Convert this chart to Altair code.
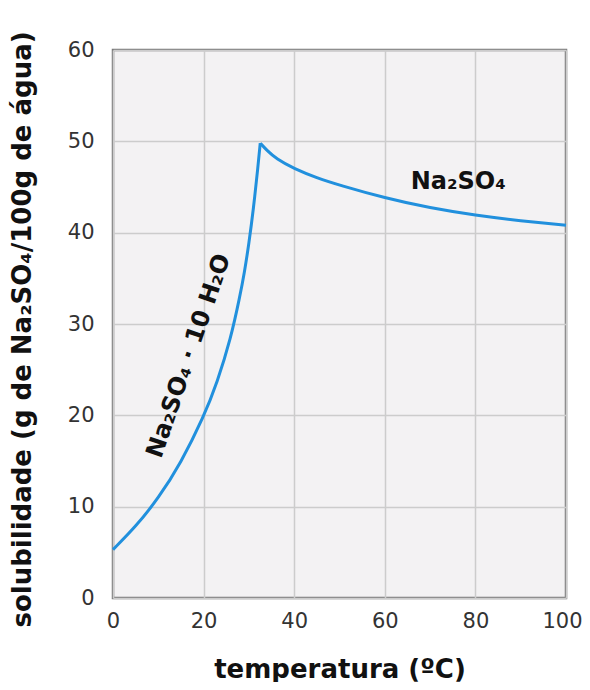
import altair as alt
import pandas as pd

# hydrate branch (Na2SO4·10H2O)
hyd_t = [0, 5, 10, 15, 20, 23, 26, 28, 29, 30, 31, 32, 32.5]
hyd_s = [5.3, 7.8, 10.9, 14.8, 19.8, 23.6, 28.4, 33.0, 35.6, 38.8, 42.6, 47.2, 49.8]
# anhydrous branch (Na2SO4)
anh_t = [32.5, 34, 36, 40, 45, 50, 60, 70, 80, 90, 100]
anh_s = [49.8, 49.0, 48.1, 47.0, 46.0, 45.2, 43.8, 42.7, 41.9, 41.3, 40.8]

labels_text = ["Na₂SO₄", "Na₂SO₄ · 10 H₂O"]
labels_t = [76.2, 16.8]
labels_s = [45.5, 26.5]

df = pd.DataFrame({
    "t": hyd_t + anh_t,
    "s": hyd_s + anh_s,
    "branch": ["hyd"] * len(hyd_t) + ["anh"] * len(anh_t),
})

FONT = "DejaVu Sans"
xs = alt.Scale(domain=[0, 100], nice=False)
ys = alt.Scale(domain=[0, 60], nice=False)

line = alt.Chart(df).mark_line(
    color="#2190dd", strokeWidth=3, interpolate="basis"
).encode(
    x=alt.X("t:Q", scale=xs,
            axis=alt.Axis(values=[0, 20, 40, 60, 80, 100], title="temperatura (ºC)",
                          titleY=79, titleBaseline="alphabetic", titleFontSize=26,
                          labelPadding=12,
                          labelOffset={"condition": {"test": "datum.value == 100", "value": -4}, "value": 0})),
    y=alt.Y("s:Q", scale=ys,
            axis=alt.Axis(values=[0, 10, 20, 30, 40, 50, 60],
                          title="solubilidade (g de Na₂SO₄/100g de água)",
                          titleX=-91, titleY=279, titleBaseline="middle", titleFontSize=26,
                          labelPadding=19)),
    detail="branch:N",
)

lab1 = alt.Chart(pd.DataFrame({"t": [labels_t[0]], "s": [labels_s[0]], "txt": [labels_text[0]]})).mark_text(
    font=FONT, fontSize=24, fontWeight="bold", color="#111"
).encode(x=alt.X("t:Q", scale=xs), y=alt.Y("s:Q", scale=ys), text="txt:N")

lab2 = alt.Chart(pd.DataFrame({"t": [labels_t[1]], "s": [labels_s[1]], "txt": [labels_text[1]]})).mark_text(
    font=FONT, fontSize=24, fontWeight="bold", color="#111", angle=289
).encode(x=alt.X("t:Q", scale=xs), y=alt.Y("s:Q", scale=ys), text="txt:N")

chart = alt.layer(line, lab1, lab2).properties(
    width=453, height=548,
    autosize=alt.AutoSizeParams(type="none"),
    padding={"left": 105, "top": 42, "right": 16, "bottom": 84},
).configure_view(
    fill="#f3f2f3", stroke="#7a7a7a", strokeWidth=2.5
).configure_axis(
    grid=True, gridColor="#cccccc", gridWidth=1.5,
    domain=False, ticks=False, labelFlush=False,
    labelFont=FONT, labelFontSize=21, labelColor="#333333",
    titleFont=FONT, titleFontWeight="bold", titleColor="#111111",
)

chart.save("out.html", embed_options={"renderer": "svg", "actions": False})
